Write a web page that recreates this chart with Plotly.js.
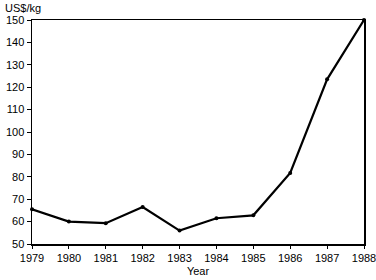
<!DOCTYPE html>
<html><head><meta charset="utf-8">
<script src="https://cdn.plot.ly/plotly-3.0.1.min.js"></script>
<style>html,body{margin:0;padding:0;background:#fff}#c{width:376px;height:280px}</style>
</head><body><div id="c"></div>
<script>
const years = [1979,1980,1981,1982,1983,1984,1985,1986,1987,1988];
const prices = [65.5,60,59.3,66.5,56,61.5,62.8,81.7,123.5,150];
const yTicks = [50,60,70,80,90,100,110,120,130,140,150];

Plotly.newPlot('c', [{
  x: years, y: prices, type: 'scatter', mode: 'lines+markers',
  line: {color: '#000', width: 2.2},
  marker: {color: '#000', size: 4},
  cliponaxis: false
}], {
  width: 376, height: 280,
  margin: {l: 32, r: 12, t: 20, b: 36},
  paper_bgcolor: '#fff', plot_bgcolor: '#fff',
  font: {family: 'Liberation Sans, Arial, sans-serif', size: 11, color: '#000'},
  showlegend: false,
  xaxis: {
    range: [1979, 1988], tickvals: years, ticktext: years.map(String),
    ticklabeloverflow: 'allow',
    showgrid: false, zeroline: false, showline: true, linecolor: '#000', linewidth: 1.5,
    mirror: true, ticks: 'outside', ticklen: 3, tickcolor: '#000',
    title: {text: 'Year', standoff: 4, font: {size: 11}}
  },
  yaxis: {
    range: [50, 150], tickvals: yTicks,
    showgrid: false, zeroline: false, showline: true, linecolor: '#000', linewidth: 1.5,
    mirror: true, ticks: 'outside', ticklen: 4, tickcolor: '#000'
  },
  annotations: [{
    text: 'US$/kg', xref: 'paper', yref: 'paper', x: 0, y: 1, xshift: -29, yshift: 4,
    xanchor: 'left', yanchor: 'bottom', showarrow: false, font: {size: 11}
  }]
}, {staticPlot: true});
</script></body></html>
